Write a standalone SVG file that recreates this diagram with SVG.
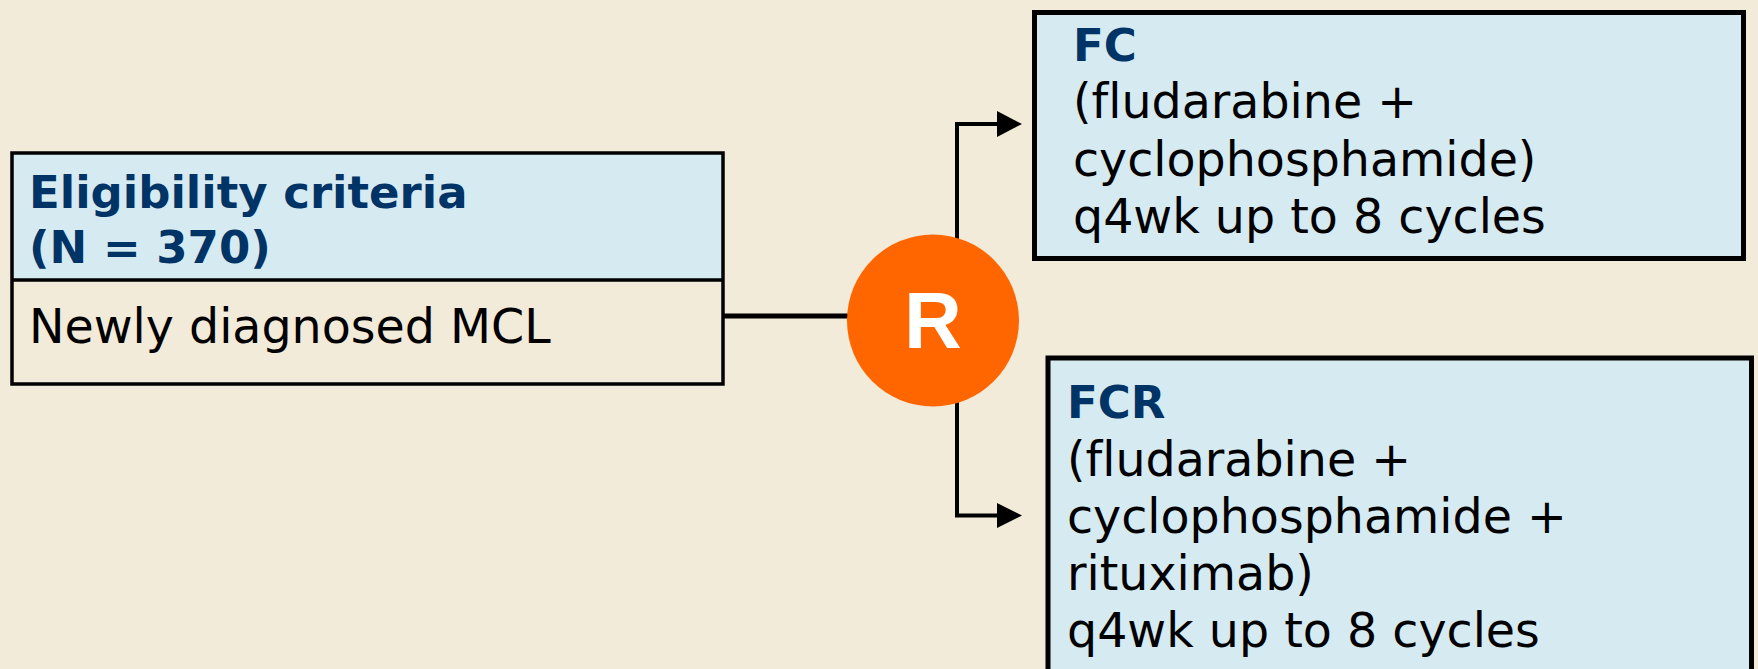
<svg xmlns="http://www.w3.org/2000/svg" width="1758" height="669" viewBox="0 0 1758 669">
  <defs>
    <style>
      .bg { fill: #f2ebd9; }
      .box { stroke: #000; fill: #d6eaf1; }
      text { font-variant-ligatures: none; }
      .hd { font-family: "DejaVu Sans", Verdana, sans-serif; font-weight: bold; font-size: 45px; fill: #003366; }
      .tx { font-family: "DejaVu Sans", Verdana, sans-serif; font-size: 47.5px; fill: #000; }
      .ln { stroke: #000; fill: none; }
      .ah { fill: #000; }
    </style>
  </defs>
  <rect class="bg" x="0" y="0" width="1758" height="669"/>

  <g id="connectors">
    <line class="ln" x1="724" y1="316" x2="850" y2="316" stroke-width="5"/>
    <polyline class="ln" points="957,240 957,124 999,124" stroke-width="4"/>
    <polygon class="ah" points="997,111 1022,124 997,137"/>
    <polyline class="ln" points="957,400 957,515.5 999,515.5" stroke-width="4"/>
    <polygon class="ah" points="997,503 1022,515.5 997,528"/>
  </g>

  <g id="eligibility">
    <rect x="12" y="153" width="711" height="127" fill="#d6eaf1"/>
    <rect x="12" y="280" width="711" height="104" fill="#f2ebd9"/>
    <rect x="12" y="153" width="711" height="231" fill="none" stroke="#000" stroke-width="3.5"/>
    <line x1="12" y1="280" x2="723" y2="280" stroke="#000" stroke-width="3.5"/>
    <text class="hd" x="29" y="208">Eligibility criteria</text>
    <text class="hd" x="29" y="263">(N = 370)</text>
    <text class="tx" x="29" y="343">Newly diagnosed MCL</text>
  </g>

  <g id="randomize">
    <circle cx="933" cy="320.5" r="86" fill="#ff6600"/>
    <text x="933" y="348" text-anchor="middle" font-family="'Liberation Sans', Arial, sans-serif" font-weight="bold" font-size="80" fill="#fff">R</text>
  </g>

  <g id="fc">
    <rect class="box" x="1034.5" y="12.5" width="709" height="246" stroke-width="5"/>
    <text class="hd" x="1073" y="61">FC</text>
    <text class="tx" x="1073" y="118">(fludarabine +</text>
    <text class="tx" x="1073" y="176">cyclophosphamide)</text>
    <text class="tx" x="1073" y="233">q4wk up to 8 cycles</text>
  </g>

  <g id="fcr">
    <rect class="box" x="1048" y="358" width="703.5" height="330" stroke-width="5"/>
    <text class="hd" x="1067" y="418">FCR</text>
    <text class="tx" x="1067" y="476">(fludarabine +</text>
    <text class="tx" x="1067" y="533">cyclophosphamide +</text>
    <text class="tx" x="1067" y="590">rituximab)</text>
    <text class="tx" x="1067" y="647">q4wk up to 8 cycles</text>
  </g>
</svg>
